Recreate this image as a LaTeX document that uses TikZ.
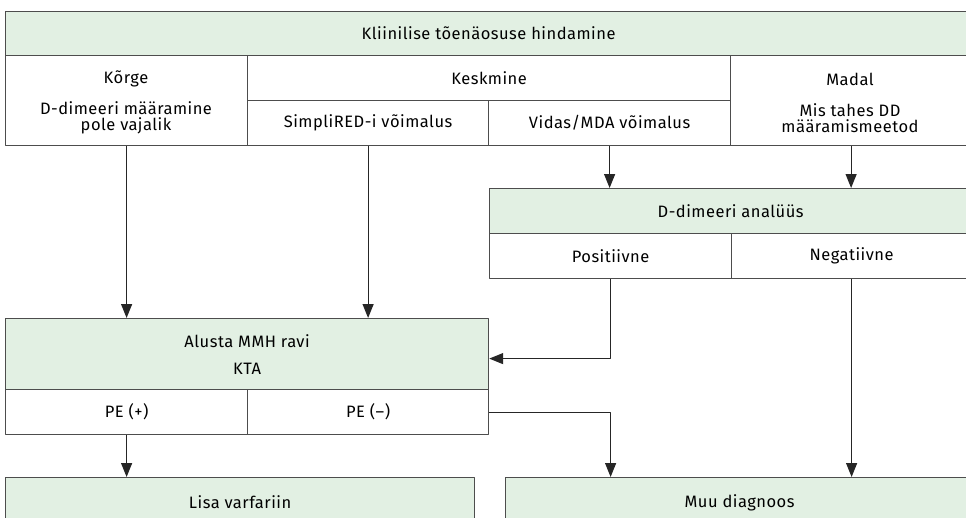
\documentclass[tikz,border=0pt]{standalone}
\usepackage{fontspec}
\setmainfont[LetterSpace=3]{Fira Sans}
\usetikzlibrary{arrows.meta}
\definecolor{boxgreen}{HTML}{E2F0E3}
\definecolor{boxline}{HTML}{4D4D4D}
\begin{document}
\begin{tikzpicture}[x=1pt, y=-1pt, font=\fontsize{16.5}{17}\selectfont, line join=round,
  >={Triangle[length=14pt,width=11pt]},
  cell/.style={draw=boxline, line width=1.2pt, rectangle, inner sep=0pt, anchor=north west, align=center},
  headcell/.style={cell, fill=boxgreen},
  subtext/.style={align=center, inner sep=0pt, font=\fontsize{16.5}{16}\selectfont},
  link/.style={->, line width=1.2pt, draw=black!85}]
\useasboundingbox (0,0) rectangle (966,517);
% top table
\node[headcell, minimum width=966pt, minimum height=44pt] (klin) at (5,11) {Kliinilise tõenäosuse hindamine};
\node[cell, minimum width=242pt, minimum height=90pt] (korge) at (5,55) {};
\node[cell, minimum width=483pt, minimum height=45pt] (kesk) at (247,55) {Keskmine};
\node[cell, minimum width=241pt, minimum height=45pt] (simpli) at (247,100) {SimpliRED-i võimalus};
\node[cell, minimum width=242pt, minimum height=45pt] (vidas) at (488,100) {Vidas/MDA võimalus};
\node[cell, minimum width=241pt, minimum height=90pt] (madal) at (730,55) {};
\node[inner sep=0pt] (korget) at (126,79) {Kõrge};
\node[subtext] (korgesub) at (126,118) {D-dimeeri määramine\\pole vajalik};
\node[inner sep=0pt] (madalt) at (850,79) {Madal};
\node[subtext] (madalsub) at (850,118) {Mis tahes DD\\määramismeetod};
% D-dimeer
\node[headcell, minimum width=482pt, minimum height=45pt] (dd) at (489,188) {D-dimeeri analüüs};
\node[cell, minimum width=242pt, minimum height=45pt] (pos) at (489,233) {Positiivne};
\node[cell, minimum width=240pt, minimum height=45pt] (neg) at (731,233) {Negatiivne};
% ravi
\node[headcell, minimum width=483pt, minimum height=71pt, font=\fontsize{16.5}{27}\selectfont] (alusta) at (5,318) {Alusta MMH ravi\\KTA};
\node[cell, minimum width=242pt, minimum height=45pt] (pep) at (5,389) {PE (+)};
\node[cell, minimum width=241pt, minimum height=45pt] (pem) at (247,389) {PE (–)};
% bottom
\node[headcell, minimum width=469pt, minimum height=50pt] (lisa) at (5,477) {Lisa varfariin};
\node[headcell, minimum width=468pt, minimum height=50pt] (muu) at (505,477) {Muu diagnoos};
% arrows
\draw[link] (korge.south) -- (korge.south |- alusta.north);
\draw[link] (simpli.south) -- (simpli.south |- alusta.north);
\draw[link] (vidas.south) -- (vidas.south |- dd.north);
\draw[link] (madal.south) -- (madal.south |- dd.north);
\draw[link] (pos.south) |- ([yshift=-4.5pt]alusta.east);
\draw[link] (neg.south) -- (neg.south |- muu.north);
\draw[link] (pem.east) -| (pos.south |- muu.north);
\draw[link] (pep.south) -- (pep.south |- lisa.north);
\end{tikzpicture}
\end{document}
